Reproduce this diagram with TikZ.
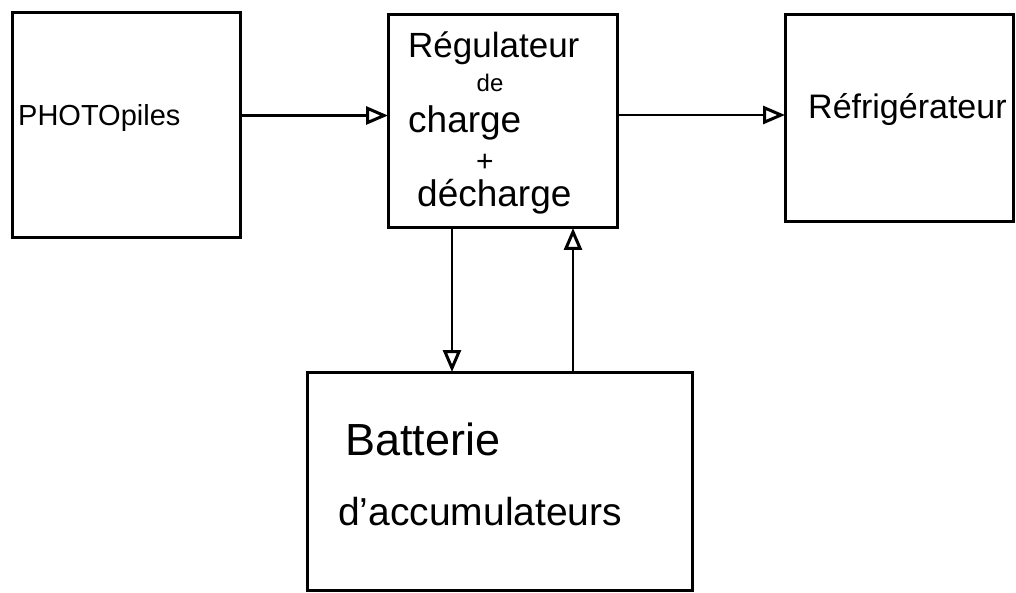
\documentclass[tikz,border=0pt]{standalone}
\usepackage{fontspec}
\setmainfont{Liberation Sans}
\usepackage{tikz}
\usetikzlibrary{arrows.meta,positioning,calc}
\newcommand{\hwsize}[1]{\fontsize{#1}{#1}\selectfont}

\begin{document}
\begin{tikzpicture}[
        x=1pt, y=-1pt,
        box/.style={draw=black, line width=3pt, inner sep=0pt, outer sep=0pt},
        lbl/.style={anchor=base west, inner sep=0pt},
        arrow/.style={-{Triangle[open, length=22pt, width=18pt, line width=3pt]}, line width=2.8pt, draw=black}
    ]
    \useasboundingbox (0,0) rectangle (1016,593);
    % blocs
    \node[box, minimum width=228pt, minimum height=225pt] (photo) at (126,125.5) {};
    \node[box, minimum width=229pt, minimum height=213pt] (regul) at (502.5,121.5) {};
    \node[box, minimum width=228pt, minimum height=207pt] (refri) at (899,118.5) {};
    \node[box, minimum width=385pt, minimum height=218pt] (batt) at (499.5,481) {};
    % textes
    \node[lbl, font=\hwsize{29}] (tphoto) at (18,126) {PHOTOpiles};
    \node[lbl, font=\hwsize{35}] (treg) at (408,58) {Régulateur};
    \node[anchor=base, inner sep=0pt, font=\hwsize{24}] (tde) at (490,92) {de};
    \node[lbl, font=\hwsize{37}] (tcharge) at (408,133) {charge};
    \node[inner sep=0pt, font=\hwsize{30}] (tplus) at (485,163) {+};
    \node[lbl, font=\hwsize{37}] (tdech) at (417,207) {décharge};
    \node[lbl, font=\hwsize{34}] (trefri) at (808,119) {Réfrigérateur};
    \node[lbl, font=\hwsize{45}] (tbatt) at (345,455) {Batterie};
    \node[lbl, font=\hwsize{39}] (taccu) at (338,525) {d'accumulateurs};
    % liaisons
    \draw[arrow] ([yshift=10pt]photo.east) -- ([yshift=10pt]photo.east -| regul.west);
    \draw[arrow] ([yshift=6.5pt]regul.east) -- ([yshift=6.5pt]regul.east -| refri.west);
    \draw[arrow] ([xshift=-50.5pt]regul.south) -- ([xshift=-50.5pt]regul.south |- batt.north);
    \draw[arrow] ([xshift=70.5pt]regul.south |- batt.north) -- ([xshift=70.5pt]regul.south);
\end{tikzpicture}
\end{document}
